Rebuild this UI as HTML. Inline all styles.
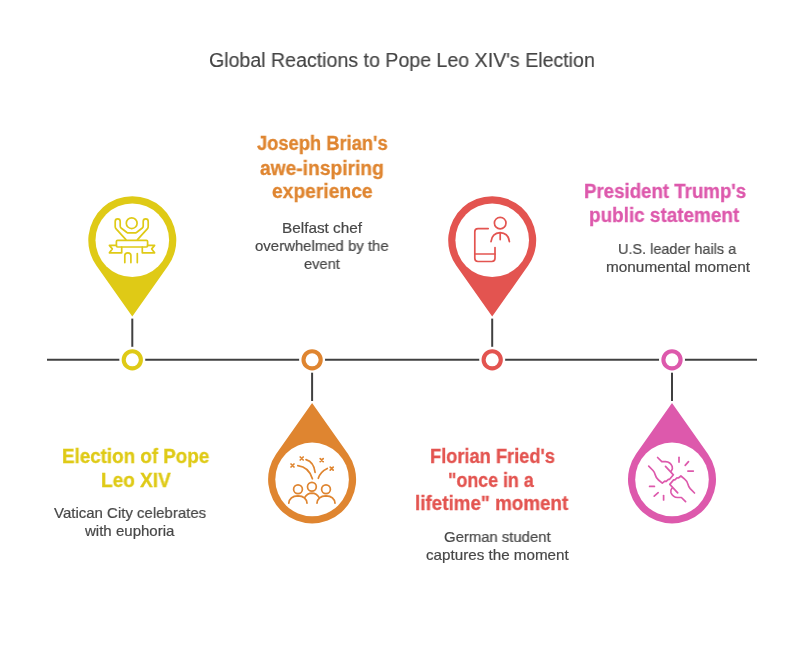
<!DOCTYPE html>
<html><head><meta charset="utf-8"><style>
html,body{margin:0;padding:0;background:#fff;}
body{width:804px;height:648px;position:relative;overflow:hidden;font-family:"Liberation Sans",sans-serif;}
svg{position:absolute;left:0;top:0;}
.t{position:absolute;white-space:nowrap;transform-origin:0 0;will-change:transform;}
</style></head><body>
<svg width="804" height="648" viewBox="0 0 804 648">
<line x1="47" y1="359.7" x2="757" y2="359.7" stroke="#404040" stroke-width="2"/>
<line x1="132.3" y1="318.6" x2="132.3" y2="359.7" stroke="#404040" stroke-width="2"/>
<path d="M132.30,316.60 L96.33,265.54 A44,44 0 1 1 168.27,265.54 Z" fill="#DFCA16"/>
<circle cx="132.3" cy="240.2" r="36.8" fill="#fff"/>
<circle cx="132.3" cy="359.7" r="13" fill="#fff"/>
<circle cx="132.3" cy="359.8" r="8.6" fill="#fff" stroke="#DFCA16" stroke-width="4.1"/>
<line x1="312.1" y1="359.7" x2="312.1" y2="401.0" stroke="#404040" stroke-width="2"/>
<path d="M312.10,403.00 L348.07,454.06 A44,44 0 1 1 276.13,454.06 Z" fill="#DF8530"/>
<circle cx="312.1" cy="479.4" r="36.8" fill="#fff"/>
<circle cx="312.1" cy="359.7" r="13" fill="#fff"/>
<circle cx="312.1" cy="359.8" r="8.6" fill="#fff" stroke="#DF8530" stroke-width="4.1"/>
<line x1="492.2" y1="318.6" x2="492.2" y2="359.7" stroke="#404040" stroke-width="2"/>
<path d="M492.20,316.60 L456.23,265.54 A44,44 0 1 1 528.17,265.54 Z" fill="#E35450"/>
<circle cx="492.2" cy="240.2" r="36.8" fill="#fff"/>
<circle cx="492.2" cy="359.7" r="13" fill="#fff"/>
<circle cx="492.2" cy="359.8" r="8.6" fill="#fff" stroke="#E35450" stroke-width="4.1"/>
<line x1="672.0" y1="359.7" x2="672.0" y2="401.0" stroke="#404040" stroke-width="2"/>
<path d="M672.00,403.00 L707.97,454.06 A44,44 0 1 1 636.03,454.06 Z" fill="#DD59AC"/>
<circle cx="672.0" cy="479.4" r="36.8" fill="#fff"/>
<circle cx="672.0" cy="359.7" r="13" fill="#fff"/>
<circle cx="672.0" cy="359.8" r="8.6" fill="#fff" stroke="#DD59AC" stroke-width="4.1"/>
<g fill="none" stroke="#DFCA16" stroke-width="1.7" stroke-linecap="round" stroke-linejoin="round">
<circle cx="131.7" cy="223.2" r="5.4"/>
<path d="M125.9,239.6 L115.9,228.6 Q115.2,227.8 115.2,226.6 L115.2,221.4 Q115.2,218.8 117.7,218.8 Q120.2,218.8 120.2,221.4 L120.2,226 Q120.2,227.2 121.1,228 L126.6,232.2 Q127.6,232.9 128.6,232.9 L134.8,232.9 Q135.8,232.9 136.8,232.2 L142.3,228 Q143.2,227.2 143.2,226 L143.2,221.4 Q143.2,218.8 145.7,218.8 Q148.2,218.8 148.2,221.4 L148.2,226.6 Q148.2,227.8 147.5,228.6 L137.5,239.6"/>
<rect x="116.4" y="240.4" width="31.2" height="6.6" rx="1.2"/>
<path d="M116.4,245.4 L109.4,245.4 L112.3,248.9 L109.4,252.8 L121.7,252.8 L121.7,247.2"/>
<path d="M147.6,245.4 L154.6,245.4 L151.7,248.9 L154.6,252.8 L142.3,252.8 L142.3,247.2"/>
<path d="M124.8,262.6 L124.8,255.6 Q124.8,252.9 127.85,252.9 Q130.9,252.9 130.9,255.6 L130.9,262.6"/>
<path d="M137.3,253.6 L137.3,262.6"/>
</g>
<g fill="none" stroke="#DF8530" stroke-width="1.7" stroke-linecap="round" stroke-linejoin="round">
<circle cx="298.0" cy="489.2" r="4.4"/>
<circle cx="311.9" cy="486.7" r="4.4"/>
<circle cx="326.0" cy="489.2" r="4.4"/>
<path d="M288.8,503.2 Q289.5,496 298,495.8 Q306.3,496 307,503.2"/>
<path d="M317,503.2 Q317.7,496 326,495.8 Q334.3,496 335,503.2"/>
<path d="M304.8,497.4 Q307.2,493.2 311.9,493.1 Q316.6,493.2 319,497.4"/>
<path d="M297.8,465.6 Q309,467 312.4,478.8"/>
<path d="M306.0,459.6 Q314,462 315.1,472.4"/>
<path d="M327.3,468.4 Q320,472 318.3,478.3"/>
<path d="M291,464 l3,3 m0,-3 l-3,3"/>
<path d="M300.2,457 l3,3 m0,-3 l-3,3"/>
<path d="M320.2,458.6 l3,3 m0,-3 l-3,3"/>
<path d="M330.2,467.2 l3,3 m0,-3 l-3,3"/>
</g>
<g fill="none" stroke="#E35450" stroke-width="1.7" stroke-linecap="round" stroke-linejoin="round">
<circle cx="500.2" cy="223.1" r="5.8"/>
<path d="M491,241.6 Q492,233 500.2,232.6 Q508.4,233 509.4,241.6"/>
<path d="M500.2,233.2 L500.2,239.6"/>
<path d="M488.2,228.6 L478,228.6 Q474.8,228.6 474.8,231.8 L474.8,258.3 Q474.8,261.5 478,261.5 L491.8,261.5 Q495,261.5 495,258.3 L495,247.6"/>
<path d="M474.8,254 L495,254"/>
</g>
<g fill="none" stroke="#DD59AC" stroke-width="1.7" stroke-linecap="round" stroke-linejoin="round">
<path d="M648.7,466.2 L653,470.5 Q654.6,472.2 655.2,474.8 Q656,478 658.5,480 L662.3,483.2 L664.8,481.2 L666.2,481.4 L668.4,479.4 L669.6,479.3 L673.4,474.8 L665.5,466.4 M657.6,457.5 L661.8,461.7 L665.5,461.7 Q670.5,462 672.2,466.5 Q673,469 671.3,471"/>
<path transform="rotate(180 671.6 479.6)" d="M648.7,466.2 L653,470.5 Q654.6,472.2 655.2,474.8 Q656,478 658.5,480 L662.3,483.2 L664.8,481.2 L666.2,481.4 L668.4,479.4 L669.6,479.3 L673.4,474.8 L665.5,466.4 M657.6,457.5 L661.8,461.7 L665.5,461.7 Q670.5,462 672.2,466.5 Q673,469 671.3,471"/>
<path d="M679,457.3 L679,462.1"/>
<path d="M685.2,465.4 L688.5,461.6"/>
<path d="M687.9,471.1 L693.3,471.1"/>
<path d="M649.6,486.4 L654.4,486.4"/>
<path d="M654.2,496.2 L658.2,492.7"/>
<path d="M663.6,495.6 L663.6,499.9"/>
</g>
</svg>
<div class="t" style="left:208.92px;top:49.8px;font-size:20px;font-weight:400;color:#444444;line-height:20px;transform:scaleX(0.9791);-webkit-text-stroke:0.15px #444444">Global Reactions to Pope Leo XIV's Election</div>
<div class="t" style="left:61.74px;top:446.8px;font-size:19.5px;font-weight:700;color:#DFCA16;line-height:19.5px;transform:scaleX(0.9636);-webkit-text-stroke:0.3px #DFCA16">Election of Pope</div>
<div class="t" style="left:100.72px;top:470.6px;font-size:19.5px;font-weight:700;color:#DFCA16;line-height:19.5px;transform:scaleX(0.9757);-webkit-text-stroke:0.3px #DFCA16">Leo XIV</div>
<div class="t" style="left:54.2px;top:504.7px;font-size:15px;font-weight:400;color:#474747;line-height:15px;transform:scaleX(0.9987);-webkit-text-stroke:0.2px #474747">Vatican City celebrates</div>
<div class="t" style="left:85.1px;top:522.8px;font-size:15px;font-weight:400;color:#474747;line-height:15px;transform:scaleX(1.0022);-webkit-text-stroke:0.2px #474747">with euphoria</div>
<div class="t" style="left:256.7px;top:134.4px;font-size:19.5px;font-weight:700;color:#DF8530;line-height:19.5px;transform:scaleX(0.9399);-webkit-text-stroke:0.3px #DF8530">Joseph Brian's</div>
<div class="t" style="left:259.81px;top:158.5px;font-size:19.5px;font-weight:700;color:#DF8530;line-height:19.5px;transform:scaleX(0.9854);-webkit-text-stroke:0.3px #DF8530">awe-inspiring</div>
<div class="t" style="left:271.51px;top:182.3px;font-size:19.5px;font-weight:700;color:#DF8530;line-height:19.5px;transform:scaleX(0.987);-webkit-text-stroke:0.3px #DF8530">experience</div>
<div class="t" style="left:282.28px;top:219.8px;font-size:15px;font-weight:400;color:#474747;line-height:15px;transform:scaleX(1.0208);-webkit-text-stroke:0.2px #474747">Belfast chef</div>
<div class="t" style="left:254.9px;top:237.6px;font-size:15px;font-weight:400;color:#474747;line-height:15px;transform:scaleX(0.9955);-webkit-text-stroke:0.2px #474747">overwhelmed by the</div>
<div class="t" style="left:303.62px;top:255.8px;font-size:15px;font-weight:400;color:#474747;line-height:15px;transform:scaleX(0.9778);-webkit-text-stroke:0.2px #474747">event</div>
<div class="t" style="left:429.66px;top:446.8px;font-size:19.5px;font-weight:700;color:#E35450;line-height:19.5px;transform:scaleX(0.9356);-webkit-text-stroke:0.3px #E35450">Florian Fried's</div>
<div class="t" style="left:448.49px;top:470.5px;font-size:19.5px;font-weight:700;color:#E35450;line-height:19.5px;transform:scaleX(0.914);-webkit-text-stroke:0.3px #E35450">&quot;once in a</div>
<div class="t" style="left:415.13px;top:494.2px;font-size:19.5px;font-weight:700;color:#E35450;line-height:19.5px;transform:scaleX(0.9652);-webkit-text-stroke:0.3px #E35450">lifetime&quot; moment</div>
<div class="t" style="left:443.91px;top:528.8px;font-size:15px;font-weight:400;color:#474747;line-height:15px;transform:scaleX(0.9916);-webkit-text-stroke:0.2px #474747">German student</div>
<div class="t" style="left:425.99px;top:546.5px;font-size:15px;font-weight:400;color:#474747;line-height:15px;transform:scaleX(1.0129);-webkit-text-stroke:0.2px #474747">captures the moment</div>
<div class="t" style="left:583.54px;top:182.4px;font-size:19.5px;font-weight:700;color:#DD59AC;line-height:19.5px;transform:scaleX(0.9577);-webkit-text-stroke:0.3px #DD59AC">President Trump's</div>
<div class="t" style="left:589.03px;top:206.2px;font-size:19.5px;font-weight:700;color:#DD59AC;line-height:19.5px;transform:scaleX(0.9695);-webkit-text-stroke:0.3px #DD59AC">public statement</div>
<div class="t" style="left:618.44px;top:240.9px;font-size:15px;font-weight:400;color:#474747;line-height:15px;transform:scaleX(0.9639);-webkit-text-stroke:0.2px #474747">U.S. leader hails a</div>
<div class="t" style="left:605.78px;top:259.0px;font-size:15px;font-weight:400;color:#474747;line-height:15px;transform:scaleX(1.0229);-webkit-text-stroke:0.2px #474747">monumental moment</div>
</body></html>
